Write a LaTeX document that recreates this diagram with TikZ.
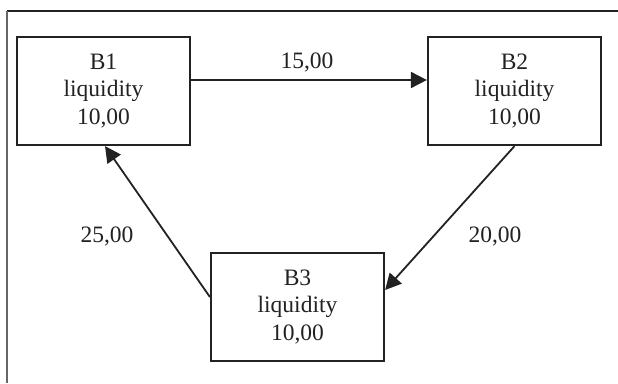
\documentclass[tikz,border=0pt]{standalone}
\usepackage{fontspec}
\setmainfont{Liberation Serif}
\usetikzlibrary{arrows.meta}
\definecolor{ink}{HTML}{222222}
\tikzset{
  bank/.style={draw=ink, line width=2.2pt, minimum width=173pt, minimum height=108pt,
    inner sep=0pt, align=center, font=\fontsize{23.5}{27.5}\selectfont, text=ink},
  flow/.style={draw=ink, line width=1.8pt, -{Triangle[length=16pt,width=16pt]}},
  lbl/.style={font=\fontsize{23.5}{27}\selectfont, text=ink, inner sep=0pt},
  frame/.style={line width=1.4pt}
}
\begin{document}
\begin{tikzpicture}[x=1pt,y=-1pt]
\useasboundingbox (0,0) rectangle (618,383);
\fill[white] (0,0) rectangle (618,383);
\coordinate (fc) at (7,11);
\coordinate (fr) at (618,11);
\coordinate (fb) at (7,383);
\draw[frame, draw=ink] (fc) -- (fr);
\draw[frame, draw=black!60, line width=2pt] (fc) -- (fb);
\node[bank] (B1) at (103.5,91) {B1\\liquidity\\10,00};
\node[bank] (B2) at (514.5,91) {B2\\liquidity\\10,00};
\node[bank] (B3) at (297.5,307) {B3\\liquidity\\10,00};
\draw[flow] ([yshift=11pt]B1.east) -- ([yshift=11pt]B2.west);
\draw[flow] (B2.south) -- ([yshift=17pt]B3.east);
\draw[flow] ([yshift=10pt]B3.west) -- ([xshift=1.5pt]B1.south);
\node[lbl] (l1) at (307,62) {15,00};
\node[lbl] (l2) at (495,236) {20,00};
\node[lbl] (l3) at (107,236) {25,00};
\end{tikzpicture}
\end{document}
